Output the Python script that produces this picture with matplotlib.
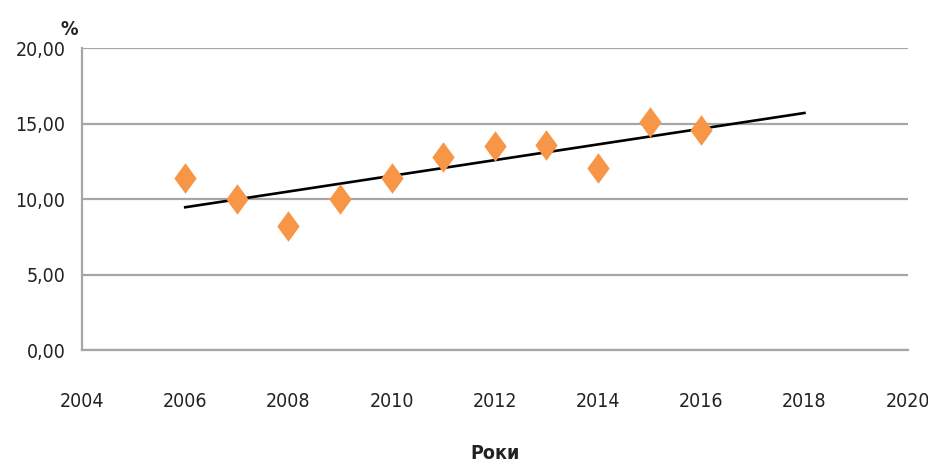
import numpy as np
import matplotlib
matplotlib.use('Agg')
import matplotlib.pyplot as plt

plt.rcParams['font.family'] = ['DejaVu Sans']
plt.rcParams['font.stretch'] = 'condensed'

# дані
years = [2006, 2007, 2008, 2009, 2010, 2011, 2012, 2013, 2014, 2015, 2016]
values = [11.4, 10.0, 8.2, 10.0, 11.4, 12.8, 13.5, 13.6, 12.05, 15.1, 14.6]
trend_end = 2018
x_ticks = [2004, 2006, 2008, 2010, 2012, 2014, 2016, 2018, 2020]
y_ticks = [0, 5, 10, 15, 20]

fig = plt.figure(figsize=(9.29, 4.67), dpi=100)
ax = fig.add_axes([0.0883, 0.2505, 0.8887, 0.6465])

# лінія тренду (МНК)
k, b = np.polyfit(years, values, 1)
tx = np.array([years[0], trend_end])
ax.plot(tx, k * tx + b, color='black', lw=1.9, zorder=3)

diamond = [(0, 1), (0.73, 0), (0, -1), (-0.73, 0), (0, 1)]
ax.plot(years, values, linestyle='none', marker=diamond, markersize=22,
        color='#F79646', markeredgewidth=0, zorder=4)

ax.set_xlim(2004, 2020)
ax.set_ylim(0, 20)
ax.set_xticks(x_ticks)
ax.set_yticks(y_ticks)
ax.set_yticklabels([f'{v:.2f}'.replace('.', ',') for v in y_ticks])
ax.tick_params(length=0, labelsize=14, colors='#222222')
ax.tick_params(axis='x', pad=30)
ax.tick_params(axis='y', pad=12)

ax.grid(axis='y', color='#A6A6A6', lw=1.6)
ax.set_axisbelow(True)
for s in ['top', 'right']:
    ax.spines[s].set_visible(False)
for s in ['left', 'bottom']:
    ax.spines[s].set_color('#A6A6A6')
    ax.spines[s].set_linewidth(1.6)

ax.set_xlabel('Роки', fontsize=14, fontweight='bold', labelpad=24, color='#222222')
fig.text(0.075, 0.925, '%', fontsize=14, fontweight='bold', ha='center', color='#222222')

fig.savefig('out.png', dpi=100)
